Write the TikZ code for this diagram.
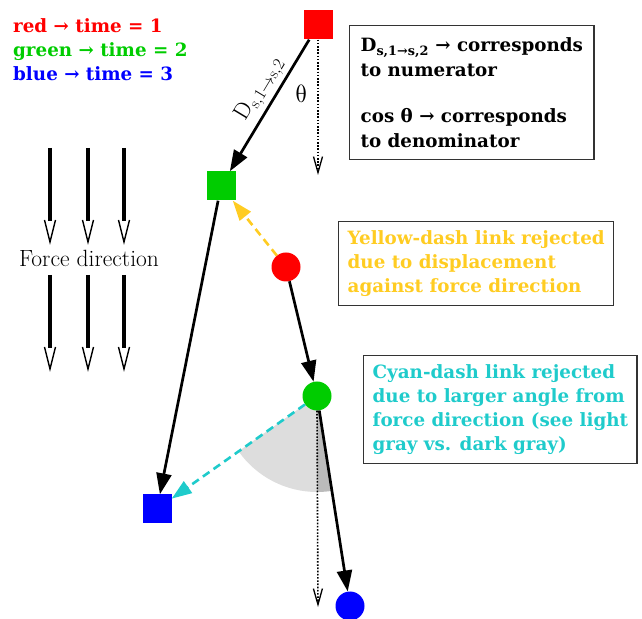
\documentclass[tikz,border=0pt]{standalone}
\usepackage{fontspec}
\usepackage{tikz}
\usetikzlibrary{arrows.meta,positioning}
\newfontfamily\dvserif{DejaVu Serif}
\newfontfamily\lmmath{latinmodern-math.otf}
\definecolor{trackred}{HTML}{FF0000}
\definecolor{trackgreen}{HTML}{00CC00}
\definecolor{trackblue}{HTML}{0000FF}
\definecolor{trackyellow}{HTML}{FFCC22}
\definecolor{trackcyan}{HTML}{1FCBCB}
\definecolor{tracklight}{HTML}{DDDDDD}
\definecolor{trackdark}{HTML}{BBBBBB}
\definecolor{trackframe}{HTML}{333333}

\begin{document}
\begin{tikzpicture}[
        x=1pt, y=1pt,
        legend/.style={
          font=\dvserif\bfseries\fontsize{18.3}{24}\selectfont,
          inner sep=0pt,
          text height=17pt,
          text depth=7pt,
          anchor=north west
        },
        note/.style={
          draw=trackframe,
          line width=1.3pt,
          align=left,
          anchor=north west,
          inner xsep=9pt,
          inner ysep=9pt,
          font=\dvserif\bfseries\fontsize{18.3}{24}\selectfont
        },
        marker/.style={minimum size=29pt, inner sep=0pt},
        square/.style={marker, rectangle},
        dot/.style={marker, circle},
        arrow/.style={
          -{Triangle[length=21pt,width=15pt]},
          line width=2.7pt
        },
        reject/.style={
          -{Triangle[length=20pt,width=14pt]},
          line width=2.6pt,
          dash pattern=on 8pt off 5pt
        },
        plumb/.style={
          -{Straight Barb[length=16pt,width=9pt,line width=1.3pt]},
          line width=1.6pt,
          dash pattern=on 1.6pt off 1.6pt
        },
        forcearrow/.pic={
          \draw[line width=3.2pt] (0,0) -- (0,-73);
          \draw[line width=1.4pt] (-5.5,-72) -- (0,-94) -- (5.5,-72);
        }
      ]

      \useasboundingbox (0,0) rectangle (642,618);

      % angle wedges
      \coordinate (gc) at (317,222);
      \fill[tracklight] (gc) -- ++(215.2:96) arc[start angle=215.2, end angle=270, radius=96] -- cycle;
      \fill[trackdark] (gc) -- ++(270:96) arc[start angle=270, end angle=278.9, radius=96] -- cycle;

      \node[square, fill=trackred] (redsq) at (318,593) {};
      \node[square, fill=trackgreen] (greensq) at (221,432) {};
      \node[square, fill=trackblue] (bluesq) at (157,109) {};
      \node[dot, fill=trackred] (redci) at (286,351) {};
      \node[dot, fill=trackgreen] (greenci) at (gc) {};
      \node[dot, fill=trackblue] (blueci) at (350,12) {};

      \coordinate (redplumb) at (318,443);
      \coordinate (greenplumb) at (318,11);
      \draw[plumb] (redsq.south) -- (redplumb);
      \draw[plumb] (greenci.south) -- (greenplumb);

      \draw[reject, trackyellow] (redci) -- (greensq);
      \draw[reject, trackcyan] (greenci) -- (bluesq);

      \draw[arrow] (redsq) -- node[pos=0.44, sloped, above=0pt, font=\fontsize{23}{26}\selectfont] (dlabel) {$\mathrm{D}_{\mathrm{s},1\rightarrow\mathrm{s},2}$} (greensq);
      \draw[arrow] (greensq) -- (bluesq);
      \draw[arrow] (redci) -- (greenci);
      \draw[arrow] (greenci) -- (blueci);

      \node[font=\lmmath\fontsize{25}{28}\selectfont] (theta) at (302,524) {θ};

      % legend
      \node[legend, text=trackred] (legred) at (13,603) {red → time = 1};
      \node[legend, text=trackgreen, below=0pt of legred.south west, anchor=north west] (leggreen) {green → time = 2};
      \node[legend, text=trackblue, below=0pt of leggreen.south west, anchor=north west] (legblue) {blue → time = 3};

      % notes
      \node[note, inner xsep=11pt, inner ysep=12pt, font=\dvserif\bfseries\fontsize{18.3}{25}\selectfont] (numer) at (349,593) {D\textsubscript{s,1→s,2} → corresponds\\to numerator\\[21pt]cos θ → corresponds\\to denominator};
      \node[note, text=trackyellow] (yellownote) at (338,397) {Yellow-dash link rejected\\due to displacement\\against force direction};
      \node[note, text=trackcyan] (cyannote) at (363,263) {Cyan-dash link rejected\\due to larger angle from\\force direction (see light\\gray vs. dark gray)};

      % force direction
      \node[font=\fontsize{23.5}{26}\selectfont] (force) at (89,360) {Force direction};
      \pic at (50,470) {forcearrow};
      \pic at (88,470) {forcearrow};
      \pic at (124,470) {forcearrow};
      \pic at (50,343) {forcearrow};
      \pic at (88,343) {forcearrow};
      \pic at (124,343) {forcearrow};

      \end{tikzpicture}
\end{document}
